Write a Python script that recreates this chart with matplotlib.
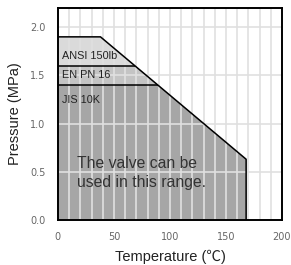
#!/usr/bin/env python

import numpy as np
import matplotlib
matplotlib.use('Agg')
import matplotlib.pyplot as plt
from matplotlib.patches import Polygon, Rectangle
from matplotlib.ticker import MultipleLocator

# - Envelope of the usable range (temperature in C, pressure in MPa)
env_temp = [0, 38, 168, 168]
env_pres = [1.9, 1.9, 0.63, 0.0]

# - Pressure classes
class_names = ['ANSI 150lb', 'EN PN 16', 'JIS 10K']
class_pres = [1.9, 1.6, 1.4]
class_colors = ['#dadada', '#c4c4c4', '#a6a6a6']

label_fam = ['Liberation Sans', 'Noto Sans CJK JP', 'DejaVu Sans']

fig = plt.figure(figsize=(2.91, 2.65), dpi=100)
ax = fig.add_axes([0.199, 0.170, 0.770, 0.800])

# - Envelope polygon (closed down to the origin)
verts = [(0, 0)] + list(zip(env_temp, env_pres))
env = Polygon(verts, closed=True, facecolor=class_colors[-1], edgecolor='none', zorder=1)
ax.add_patch(env)

# - Class bands clipped to the envelope
for i in range(len(class_pres) - 1):
    band = Rectangle((0, class_pres[i + 1]), env_temp[-1], class_pres[i] - class_pres[i + 1],
                     facecolor=class_colors[i], edgecolor='none', zorder=1.1)
    ax.add_patch(band)
    band.set_clip_path(env)

# - Outline and class boundaries
ax.plot(env_temp, env_pres, color='black', lw=1.1, zorder=3)
for p in class_pres[1:]:
    ln, = ax.plot([0, env_temp[-1]], [p, p], color='black', lw=1.1, zorder=3)
    ln.set_clip_path(env)

# - Class labels
label_y = [1.70, 1.50, 1.24]
for name, y in zip(class_names, label_y):
    ax.text(3.5, y, name, fontsize=7.8, family=label_fam, color='#222222',
            va='center', ha='left', zorder=4)

ax.text(17, 0.49, 'The valve can be\nused in this range.', fontsize=11.3, family=label_fam,
        color='#333333', va='center', ha='left', linespacing=1.35, zorder=4)

# - Axes
ax.set_xlim(0, 200)
ax.set_ylim(0, 2.2)
ax.xaxis.set_major_locator(MultipleLocator(50))
ax.xaxis.set_minor_locator(MultipleLocator(10))
ax.set_yticks([0.0, 0.5, 1.0, 1.5, 2.0])
ax.set_yticklabels(['0.0', '0.5', '1.0', '1.5', '2.0'])

ax.set_axisbelow(False)
ax.grid(which='both', axis='x', color='#e0e0e0', lw=1.2)
ax.grid(which='major', axis='y', color='#e0e0e0', lw=1.2)

ax.tick_params(which='both', length=0, labelsize=7, labelcolor='#666666', pad=9)
for s in ax.spines.values():
    s.set_linewidth(1.4)
    s.set_color('black')
    s.set_zorder(5)

ax.set_xlabel('Temperature (℃)', fontsize=10.5, family=label_fam, color='#222222', labelpad=5)
ax.set_ylabel('Pressure (MPa)', fontsize=10.5, family=label_fam, color='#222222', labelpad=6)

plt.savefig('out.png', dpi=100)
